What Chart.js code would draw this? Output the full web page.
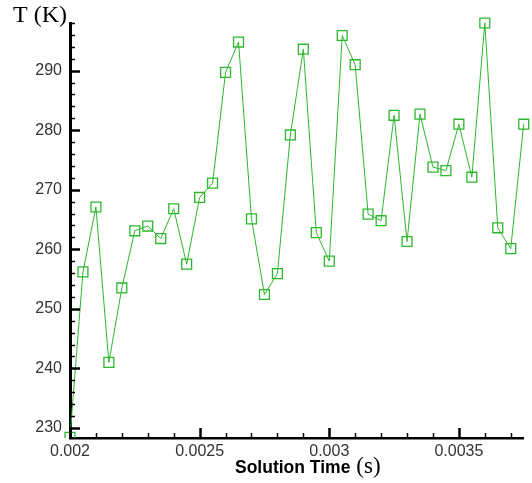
<!DOCTYPE html>
<html><head><meta charset="utf-8">
<script src="https://cdn.jsdelivr.net/npm/chart.js@4/dist/chart.umd.min.js"></script>
<style>html,body{margin:0;padding:0;background:#fff;}canvas{display:block}</style>
</head><body>
<canvas id="c" width="532" height="483"></canvas>
<script>
const times = [0.002,0.00205,0.0021,0.00215,0.0022,0.00225,0.0023,0.00235,0.0024,0.00245,
  0.0025,0.00255,0.0026,0.00265,0.0027,0.00275,0.0028,0.00285,0.0029,0.00295,
  0.003,0.00305,0.0031,0.00315,0.0032,0.00325,0.0033,0.00335,0.0034,0.00345,
  0.0035,0.00355,0.0036,0.00365,0.0037,0.00375];
const temps = [228.4,256.2,267.1,241.0,253.5,263.1,263.9,261.8,266.8,257.5,
  268.7,271.1,289.7,294.8,265.1,252.4,255.9,279.2,293.6,262.8,
  258.0,295.9,291.0,265.9,264.8,282.5,261.3,282.7,273.8,273.2,
  281.0,272.1,298.0,263.6,260.1,281.0];
const xTickLabels = [0.002,0.0025,0.003,0.0035];
const yTickLabels = [230,240,250,260,270,280,290];
const xMinorStep = 0.0001;
const yMinorStep = 2;

const green = '#2cb82c';

const innerTicks = {
  id: 'innerTicks',
  afterDraw(chart) {
    const ctx = chart.ctx, a = chart.chartArea;
    const xs = chart.scales.x, ys = chart.scales.y;
    ctx.save();
    ctx.strokeStyle = '#000';
    for (let v = Math.ceil(ys.min / yMinorStep) * yMinorStep; v <= ys.max + 1e-9; v += yMinorStep) {
      const p = Math.round(ys.getPixelForValue(v)) + 0.5;
      const major = yTickLabels.includes(v);
      ctx.lineWidth = major ? 2.5 : 1.5;
      ctx.beginPath(); ctx.moveTo(a.left, p); ctx.lineTo(a.left + (major ? 10 : 5), p); ctx.stroke();
    }
    for (let i = 0; ; i++) {
      const v = +(xs.min + i * xMinorStep).toFixed(6);
      if (v > xs.max + 1e-9) break;
      const p = Math.round(xs.getPixelForValue(v)) + 0.5;
      const major = xTickLabels.some(t => Math.abs(t - v) < 1e-9);
      ctx.lineWidth = major ? 2.5 : 1.5;
      ctx.beginPath(); ctx.moveTo(p, a.bottom); ctx.lineTo(p, a.bottom - (major ? 10 : 5)); ctx.stroke();
    }
    ctx.fillStyle = '#000';
    ctx.textBaseline = 'alphabetic';
    ctx.textAlign = 'left';
    ctx.font = '24px "Liberation Serif"';
    ctx.fillText('T (K)', a.left - 57, a.top - 1);
    ctx.font = 'bold 17.5px "Liberation Sans"';
    const t1 = 'Solution Time';
    const x0 = a.left + 165;
    ctx.fillText(t1, x0, a.bottom + 35);
    const w1 = ctx.measureText(t1).width;
    ctx.font = '23px "Liberation Serif"';
    ctx.fillText('(s)', x0 + w1 + 6, a.bottom + 35);
    ctx.restore();
  }
};

new Chart(document.getElementById('c'), {
  type: 'scatter',
  data: {
    datasets: [{
      data: times.map((t, i) => ({x: t, y: temps[i]})),
      showLine: true,
      borderColor: green,
      borderWidth: 1,
      pointStyle: 'rect',
      pointRadius: 7,
      pointBorderWidth: 1.3,
      pointBackgroundColor: 'rgba(0,0,0,0)',
      pointBorderColor: green,
      clip: {left: 6, top: 10, right: 8, bottom: 0}
    }]
  },
  options: {
    responsive: false,
    animation: false,
    devicePixelRatio: 1,
    layout: {padding: {top: 23, right: 6, left: 0, bottom: 0}},
    plugins: {legend: {display: false}, tooltip: {enabled: false}},
    scales: {
      x: {
        type: 'linear', min: 0.002, max: 0.00375,
        afterBuildTicks: s => { s.ticks = xTickLabels.map(v => ({value: v})); },
        afterFit: s => { s.height = 45; },
        grid: {display: false, drawTicks: false},
        border: {display: true, color: '#000', width: 2.5},
        ticks: {padding: 4, color: '#333', font: {family: 'Liberation Sans', size: 16},
          maxRotation: 0, autoSkip: false, callback: v => String(v)}
      },
      y: {
        type: 'linear', min: 228.3, max: 298,
        afterBuildTicks: s => { s.ticks = yTickLabels.map(v => ({value: v})); },
        afterFit: s => { s.width = 70; },
        grid: {display: false, drawTicks: false},
        border: {display: true, color: '#000', width: 3},
        ticks: {padding: 8, color: '#333', font: {family: 'Liberation Sans', size: 16},
          callback: v => String(v)}
      }
    }
  },
  plugins: [innerTicks]
});
</script>
</body></html>
